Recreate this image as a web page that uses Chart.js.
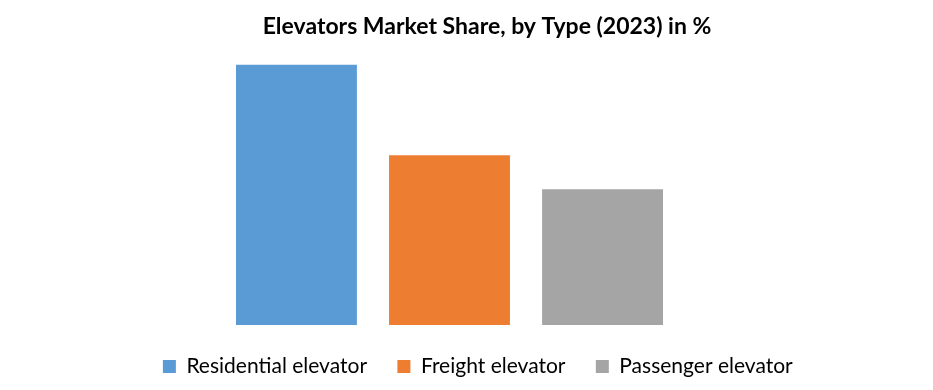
<!DOCTYPE html>
<html lang="en">
<head>
  <meta charset="UTF-8" />
  <title>Elevators Market Share, by Type (2023) in %</title>
  <script src="https://cdn.jsdelivr.net/npm/chart.js"></script>
  <style>
    html, body { margin: 0; padding: 0; background: #fff; }
    #wrap { width: 933px; height: 390px; }
  </style>
</head>
<body>
  <div id="wrap"><canvas id="myChart"></canvas></div>
  <script>
    const types = ["Residential elevator", "Freight elevator", "Passenger elevator"];
    const shares = [46, 30, 24];
    const colors = ["#5B9BD5", "#ED7D31", "#A5A5A5"];

    const FONT = "Lato, 'Liberation Sans', sans-serif";

    const ctx = document.getElementById("myChart").getContext("2d");
    const myChart = new Chart(ctx, {
      type: "bar",
      data: {
        labels: [""],
        datasets: types.map((t, i) => ({
          label: t,
          data: [shares[i]],
          backgroundColor: colors[i],
          borderWidth: 0
        }))
      },
      options: {
        responsive: true,
        maintainAspectRatio: false,
        animation: false,
        layout: { padding: { left: 41, right: 0, top: 0, bottom: 3 } },
        datasets: { bar: { categoryPercentage: 0.562, barPercentage: 0.79 } },
        scales: {
          // hidden axes only used to reserve space
          x: {
            grid: { display: false },
            border: { display: false },
            ticks: { display: false },
            afterFit(scale) { scale.height = 19; }
          },
          y: {
            position: "right",
            min: 0,
            max: 46,
            grid: { display: false },
            border: { display: false },
            ticks: { display: false },
            afterFit(scale) { scale.width = 75; }
          }
        },
        plugins: {
          tooltip: { enabled: false },
          title: {
            display: true,
            text: "Elevators Market Share, by Type (2023) in %",
            color: "#000",
            font: { family: FONT, size: 23, weight: "bold" },
            padding: { top: 13, bottom: 24 }
          },
          legend: {
            position: "bottom",
            labels: {
              color: "#000",
              font: { family: FONT, size: 21 },
              boxWidth: 13,
              boxHeight: 13,
              padding: 12,
              // extra space after each label to widen the gaps like the original
              generateLabels(chart) {
                return chart.data.datasets.map((ds, i) => ({
                  text: ds.label + "\u2003\u2009",
                  fillStyle: ds.backgroundColor,
                  strokeStyle: ds.backgroundColor,
                  lineWidth: 0,
                  datasetIndex: i
                }));
              }
            }
          }
        }
      }
    });
  </script>
</body>
</html>
